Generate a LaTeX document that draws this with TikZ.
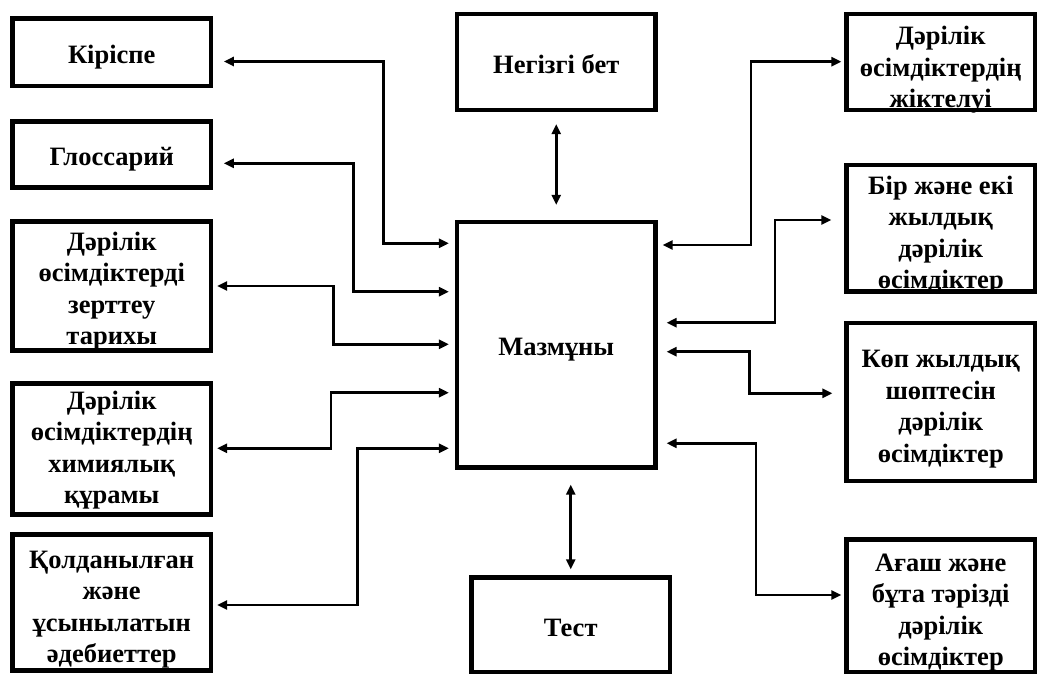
\documentclass[tikz,border=0pt]{standalone}
\usepackage{fontspec}
\setmainfont{Liberation Serif}
\usetikzlibrary{arrows.meta}
\begin{document}
\begin{tikzpicture}[x=1pt,y=-1pt,
  box/.style={draw, line width=4.2pt, rectangle, inner sep=0pt},
  lbl/.style={align=center, inner sep=0pt, yshift=-5pt,
    font=\bfseries\fontsize{26.5}{31.5}\selectfont},
  link/.style={line width=2.8pt, line join=miter,
    {Triangle[length=10pt,width=9pt]}-{Triangle[length=10pt,width=9pt]}}]
\useasboundingbox (0,0) rectangle (1037,674);

% left column
\node[box, minimum width=198.5pt, minimum height=67.5pt,
  label={[lbl]center:{Кіріспе}}] (L1) at (111.75,52.25) {};
\node[box, minimum width=198.5pt, minimum height=66pt,
  label={[lbl]center:{Глоссарий}}] (L2) at (111.75,154.5) {};
\node[box, minimum width=198.5pt, minimum height=129pt,
  label={[lbl]center:{Дәрілік\\өсімдіктерді\\зерттеу\\тарихы}}] (L3) at (111.75,286) {};
\node[box, minimum width=198.5pt, minimum height=131pt,
  label={[lbl, yshift=4pt]center:{Дәрілік\\өсімдіктердің\\химиялық\\құрамы}}] (L4) at (111.75,449) {};
\node[box, minimum width=198.5pt, minimum height=136pt,
  label={[lbl, yshift=-2pt]center:{Қолданылған\\және\\ұсынылатын\\әдебиеттер}}] (L5) at (111.75,602.5) {};

% middle column
\node[box, minimum width=198.5pt, minimum height=96pt,
  label={[lbl, yshift=3pt]center:{Негізгі бет}}] (T) at (556.25,62) {};
\node[box, minimum width=198.5pt, minimum height=245.5pt,
  label={[lbl]center:{Мазмұны}}] (C) at (556.25,344.75) {};
\node[box, minimum width=198.5pt, minimum height=94.5pt,
  label={[lbl, yshift=2pt]center:{Тест}}] (B) at (570.75,624.75) {};

% right column
\node[box, minimum width=188.5pt, minimum height=96pt,
  label={[lbl, yshift=-3pt]center:{Дәрілік\\өсімдіктердің\\жіктелуі}}] (R1) at (940.75,62) {};
\node[box, minimum width=188.5pt, minimum height=126.5pt,
  label={[lbl, yshift=-2pt]center:{Бір және екі\\жылдық\\дәрілік\\өсімдіктер}}] (R2) at (940.75,228.25) {};
\node[box, minimum width=188.5pt, minimum height=158pt,
  label={[lbl, yshift=-2pt]center:{Көп жылдық\\шөптесін\\дәрілік\\өсімдіктер}}] (R3) at (940.75,402) {};
\node[box, minimum width=188.5pt, minimum height=132.5pt,
  label={[lbl, yshift=-2pt]center:{Ағаш және\\бұта тәрізді\\дәрілік\\өсімдіктер}}] (R4) at (940.75,605.75) {};

% links between the left column and the contents
\draw[link, shorten <=10.7pt, shorten >=6pt] (L1.east |- 0,61.5) -| (383.3,243.3) -- (C.west |- 0,243.3);
\draw[link, shorten <=10.7pt, shorten >=6pt] (L2.east |- 0,163.3) -| (353.3,291.7) -- (C.west |- 0,291.7);
\draw[link, shorten <=4pt, shorten >=6pt] (L3.east |- 0,286) -| (333.3,344.3) -- (C.west |- 0,344.3);
\draw[link, shorten <=4pt, shorten >=6pt] (L4.east |- 0,448.3) -| (331,392.7) -- (C.west |- 0,392.7);
\draw[link, shorten <=4pt, shorten >=6pt] (L5.east |- 0,605) -| (357.7,448.3) -- (C.west |- 0,448.3);

% vertical links
\draw[link, shorten <=12pt, shorten >=15pt] (T.south) -- (C.north);
\draw[link, shorten <=15pt, shorten >=6pt] (B.north |- C.south) -- (B.north);

% links between the contents and the right column
\draw[link, shorten <=5pt, shorten >=3pt] (C.east |- 0,245) -| (751,61.7) -- (R1.west |- 0,61.7);
\draw[link, shorten <=9pt, shorten >=13pt] (C.east |- 0,322.7) -| (775,220) -- (R2.west |- 0,220);
\draw[link, shorten <=9pt, shorten >=12pt] (C.east |- 0,351.7) -| (749.3,393.3) -- (R3.west |- 0,393.3);
\draw[link, shorten <=9pt, shorten >=3pt] (C.east |- 0,443.3) -| (756,595) -- (R4.west |- 0,595);
\end{tikzpicture}
\end{document}
